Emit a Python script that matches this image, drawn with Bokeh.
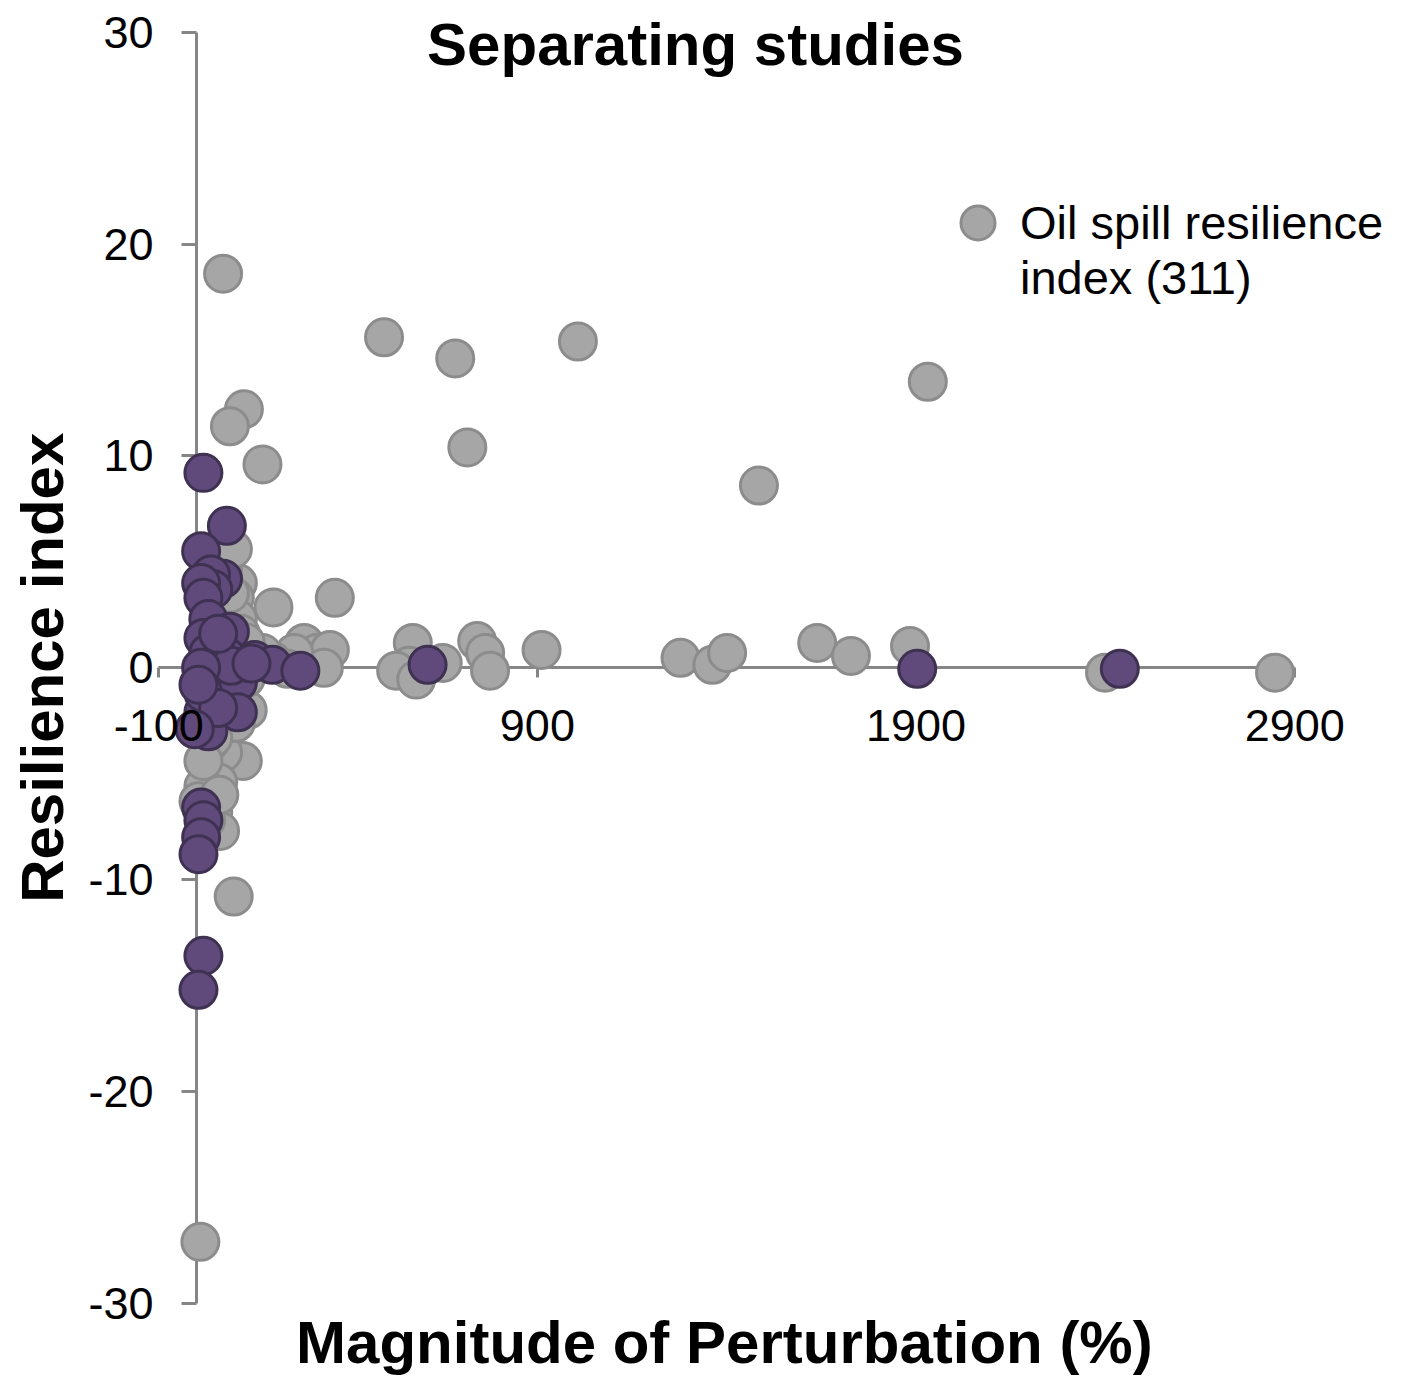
from bokeh.plotting import figure
from bokeh.models import (Range1d, FixedTicker, Label, Legend, LegendItem, AllLabels,
                          LinearAxis, CustomJSTickFormatter)
from bokeh.embed import file_html
from bokeh.resources import INLINE

# ---------------- data ----------------
gray_x = [70, 495, 683, 1007, 715, 1931, 1485, 125, 88, 174, 203, 365, 98, 10,
          284, 318, 352, 336, 258, 240, 200, 174, 571, 561, 527, 580, 650, 741,
          762, 775, 911, 1278, 1362, 1401, 1639, 1728, 1884, 2399, 2848,
          109, 101, 109, 117, 130, 135, 122, 70, 36, 57, 18, 44, 62, 25, 78,
          104, 44, 18, 88, 70, 96, 130, 75, 30, 5, 60]
gray_y = [18.6, 15.6, 14.6, 15.4, 10.4, 13.5, 8.6, 12.2, 11.4, 9.6, 2.85, 3.3, -10.8, -27.1,
          1.17, 0.70, 0.84, 0.0, 0.70, -0.05, 0.33, 0.7, 1.17, 0.09, -0.14, -0.56, 0.23, 1.26,
          0.70, -0.14, 0.84, 0.47, 0.14, 0.70, 1.17, 0.56, 1.03, -0.23, -0.23,
          4.0, 3.3, 2.3, 1.6, 1.2, -2.0, -4.4, -4.0, -3.5, -5.4, -5.6, -6.8, -7.7, -7.2, -1.4,
          -2.6, -3.3, -4.4, 3.5, 4.7, 5.6, -0.5, -1.0, -0.8, -6.3, -6.0]

purple_x = [18, 80, 12, 70, 38, 44, 12, 18, 31, 88, 18, 31, 83, 31, 70, 109, 91,
            153, 200, 274, 109, 18, 31, 18, 12, 18, 12, 5, 18, 5, 610, 1903, 2438,
            57, 57, 145, -5, 12, 5]
purple_y = [9.2, 6.7, 5.5, 4.2, 4.4, 3.7, 4.0, 3.3, 2.3, 1.7, 1.4, 0.7, 0.47, -0.23, -0.7,
            -0.7, 0.09, 0.37, 0.14, -0.14, -2.1, -2.1, -3.0, -1.2, -6.6, -7.2, -8.0, -8.8,
            -13.6, -15.2, 0.14, -0.05, -0.05,
            1.6, -1.9, 0.2, -2.9, 0.0, -0.8]

x_ticks = [-100, 900, 1900, 2900]
y_ticks = [-30, -20, -10, 0, 10, 20, 30]

title_text = "Separating studies"
x_label = "Magnitude of Perturbation (%)"
y_label = "Resilience index"
legend_label = "\nOil spill resilience\nindex (311)"

# ---------------- figure ----------------
p = figure(frame_width=1406, frame_height=1380, output_backend="svg",
           toolbar_location=None, min_border=0,
           x_range=Range1d(-517.8, 3195.1), y_range=Range1d(-33.644, 31.497),
           x_axis_location="below", y_axis_location="left")
p.outline_line_color = None
p.xgrid.visible = False
p.ygrid.visible = False
p.background_fill_color = "white"
p.border_fill_color = "white"

AX = "#868686"
fmt = CustomJSTickFormatter(code="return tick.toString();")


def style(ax, lines, labels):
    ax.fixed_location = 0
    ax.axis_line_color = AX if lines else None
    ax.axis_line_width = 3
    ax.major_tick_line_color = AX if lines else None
    ax.major_tick_line_width = 3
    ax.major_tick_in = 0
    ax.minor_tick_line_color = None
    ax.major_label_text_font = "Liberation Sans"
    ax.major_label_text_font_size = "45px"
    ax.major_label_text_color = "black" if labels else None
    ax.major_label_policy = AllLabels()
    ax.formatter = fmt


def xconf(ax):
    ax.bounds = (-100, 2900)
    ax.ticker = FixedTicker(ticks=x_ticks)
    ax.major_tick_out = 10
    ax.major_label_standoff = 32


def yconf(ax):
    ax.bounds = (-30, 30)
    ax.ticker = FixedTicker(ticks=y_ticks)
    ax.major_tick_out = 15
    ax.major_label_standoff = 28
    ax.major_label_orientation = "horizontal"


# axis lines and ticks, drawn under the points
xa = p.xaxis[0]
ya = p.yaxis[0]
style(xa, True, False); xconf(xa); xa.level = "underlay"
style(ya, True, False); yconf(ya); ya.level = "underlay"

# tick labels, drawn above the points
xl = LinearAxis()
yl = LinearAxis()
style(xl, False, True); xconf(xl)
style(yl, False, True); yconf(yl)
p.add_layout(xl, "below")
p.add_layout(yl, "left")

gray = p.scatter(gray_x, gray_y, size=37, fill_color="#A6A6A6",
                 line_color="#8C8C8C", line_width=3)
purple = p.scatter(purple_x, purple_y, size=37, fill_color="#604A7B",
                   line_color="#3F3151", line_width=3)

# ---------------- texts ----------------
common = dict(text_align="center", text_baseline="middle", text_font="Liberation Sans",
              text_font_style="bold", text_font_size="60px", text_color="black")
p.add_layout(Label(x=1317.5, y=29.40, text=title_text, **common))
p.add_layout(Label(x=1393.8, y=-31.85, text=x_label, **common))
p.add_layout(Label(x=-408.2, y=0, text=y_label, angle=1.5708, **common))

legend = Legend(items=[LegendItem(label=legend_label, renderers=[gray])],
                location=(935, 1075), glyph_width=85, glyph_height=85,
                label_standoff=-18, padding=0, margin=0, spacing=0,
                border_line_color=None, background_fill_alpha=0,
                label_text_font="Liberation Sans", label_text_font_size="47px",
                label_text_line_height=1.45, label_text_color="black")
p.add_layout(legend, "center")

open("out.html", "w").write(file_html(p, INLINE))
